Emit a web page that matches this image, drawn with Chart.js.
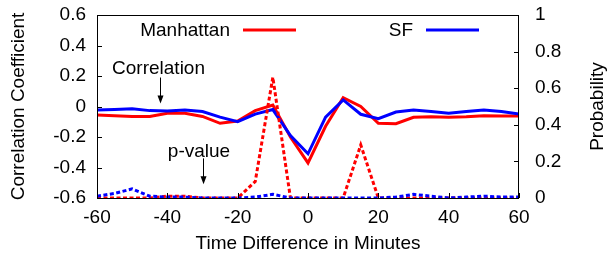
<!DOCTYPE html>
<html>
<head>
<meta charset="utf-8">
<script src="https://cdn.jsdelivr.net/npm/chart.js@4/dist/chart.umd.min.js"></script>
<style>
  html, body { margin: 0; padding: 0; background: #fff; }
  #wrap { width: 609px; height: 259px; }
</style>
</head>
<body>
<div id="wrap"><canvas id="chart" width="609" height="259"></canvas></div>
<script>
const minutes = [-60, -55, -50, -45, -40, -35, -30, -25, -20, -15, -10, -5, 0,
  5, 10, 15, 20, 25, 30, 35, 40, 45, 50, 55, 60];

const manhattanCorr = [-0.056, -0.06, -0.065, -0.065, -0.045, -0.045, -0.065, -0.11, -0.095, -0.027, 0.01, -0.2, -0.37,
  -0.13, 0.058, 0.0, -0.11, -0.113, -0.071, -0.067, -0.071, -0.067, -0.06, -0.062, -0.062];
const sfCorr = [-0.023, -0.02, -0.015, -0.027, -0.03, -0.023, -0.033, -0.07, -0.1, -0.05, -0.02, -0.19, -0.31,
  -0.07, 0.043, -0.051, -0.08, -0.036, -0.023, -0.033, -0.045, -0.033, -0.023, -0.033, -0.049];

const manhattanP = [0, 0, 0, 0, 0.01, 0.01, 0, 0, 0, 0.09, 0.66, 0, 0,
  0, 0, 0.29, 0, 0, 0, 0, 0, 0, 0, 0, 0];
const sfP = [0.01, 0.025, 0.05, 0.01, 0.005, 0.005, 0, 0, 0, 0.005, 0.02, 0, 0,
  0, 0, 0, 0, 0.005, 0.02, 0.01, 0, 0.005, 0.01, 0.005, 0.005];

const seriesNames = ["Manhattan", "SF"];
const xTicks = [-60, -40, -20, 0, 20, 40, 60];

const RED = "#ff0000";
const BLUE = "#0000ff";
const FONT = "Liberation Sans, Arial, sans-serif";
const FS = 19;

const toPoints = (ys) => minutes.map((m, i) => ({ x: m, y: ys[i] }));

// keep the plot box where the reference has it, labels may overflow
const noPad = (s) => {
  s.paddingTop = 0;
  s.paddingBottom = 0;
  s.paddingLeft = 0;
  s.paddingRight = 0;
};

// gnuplot-ish box, inward ticks, legend, right title and the two arrow notes
const decorations = {
  id: "decorations",
  afterDatasetsDraw(chart) {
    const { ctx, chartArea: a, scales } = chart;
    ctx.save();
    ctx.strokeStyle = "#000";
    ctx.lineWidth = 1;

    ctx.beginPath();
    scales.x.ticks.forEach((t) => {
      const px = Math.round(scales.x.getPixelForValue(t.value)) + 0.5;
      ctx.moveTo(px, a.bottom);
      ctx.lineTo(px, a.bottom - 5);
    });
    scales.y.ticks.forEach((t) => {
      const py = Math.round(scales.y.getPixelForValue(t.value)) + 0.5;
      ctx.moveTo(a.left, py);
      ctx.lineTo(a.left + 5, py);
    });
    scales.y1.ticks.forEach((t) => {
      const py = Math.round(scales.y1.getPixelForValue(t.value)) + 0.5;
      ctx.moveTo(a.right, py);
      ctx.lineTo(a.right - 5, py);
    });
    ctx.stroke();

    ctx.strokeRect(Math.round(a.left) + 0.5, Math.round(a.top) + 0.5,
      Math.round(a.right - a.left) - 1, Math.round(a.bottom - a.top));

    // legend
    ctx.font = FS + "px " + FONT;
    ctx.fillStyle = "#000";
    ctx.textBaseline = "middle";
    ctx.textAlign = "right";
    const ly = a.top + 15;
    ctx.fillText(seriesNames[0], 230, ly + 1);
    ctx.fillText(seriesNames[1], 413, ly + 1);
    ctx.lineWidth = 3;
    ctx.strokeStyle = RED;
    ctx.beginPath(); ctx.moveTo(243, ly); ctx.lineTo(296, ly); ctx.stroke();
    ctx.strokeStyle = BLUE;
    ctx.beginPath(); ctx.moveTo(426, ly); ctx.lineTo(479, ly); ctx.stroke();

    // right axis title, reading upwards
    ctx.save();
    ctx.translate(598, (a.top + a.bottom) / 2);
    ctx.rotate(-Math.PI / 2);
    ctx.textAlign = "center";
    ctx.fillText("Probability", 0, 0);
    ctx.restore();

    // annotations
    const notes = [
      { text: "Correlation", tx: -42.5, ty: 0.25, ax: -42, y0: 0.19, y1: 0.02 },
      { text: "p-value", tx: -31, ty: -0.3, ax: -30, y0: -0.34, y1: -0.51 },
    ];
    ctx.textAlign = "center";
    ctx.strokeStyle = "#000";
    ctx.fillStyle = "#000";
    ctx.lineWidth = 1;
    notes.forEach((n) => {
      ctx.fillText(n.text, scales.x.getPixelForValue(n.tx), scales.y.getPixelForValue(n.ty));
      const x = Math.round(scales.x.getPixelForValue(n.ax)) + 0.5;
      const yA = scales.y.getPixelForValue(n.y0);
      const yB = scales.y.getPixelForValue(n.y1);
      ctx.beginPath(); ctx.moveTo(x, yA); ctx.lineTo(x, yB - 4); ctx.stroke();
      ctx.beginPath();
      ctx.moveTo(x - 3, yB - 8); ctx.lineTo(x, yB); ctx.lineTo(x + 3, yB - 8);
      ctx.closePath();
      ctx.fill();
    });
    ctx.restore();
  },
};

new Chart(document.getElementById("chart"), {
  type: "line",
  data: {
    datasets: [
      { label: "Manhattan correlation", data: toPoints(manhattanCorr), yAxisID: "y",
        borderColor: RED, borderWidth: 3, order: 4 },
      { label: "SF correlation", data: toPoints(sfCorr), yAxisID: "y",
        borderColor: BLUE, borderWidth: 3, order: 3 },
      { label: "Manhattan p-value", data: toPoints(manhattanP), yAxisID: "y1",
        borderColor: RED, borderWidth: 3, borderDash: [4, 2.5], order: 2 },
      { label: "SF p-value", data: toPoints(sfP), yAxisID: "y1",
        borderColor: BLUE, borderWidth: 3, borderDash: [4, 2.5], order: 1 },
    ],
  },
  options: {
    responsive: false,
    animation: false,
    layout: { padding: { top: 15, left: 0, right: 0, bottom: 0 } },
    elements: {
      point: { radius: 0 },
      line: { tension: 0, fill: false, borderCapStyle: "butt" },
    },
    plugins: { legend: { display: false }, tooltip: { enabled: false } },
    scales: {
      x: {
        type: "linear",
        min: -60,
        max: 60,
        afterBuildTicks: (s) => { s.ticks = xTicks.map((v) => ({ value: v })); },
        afterFit: (s) => { s.height = 61; noPad(s); },
        grid: { display: false, drawTicks: false },
        border: { display: false },
        ticks: { color: "#000", font: { family: FONT, size: FS }, padding: 8 },
        title: { display: true, text: "Time Difference in Minutes", color: "#000",
          font: { family: FONT, size: FS }, padding: { top: 0, bottom: 4 } },
      },
      y: {
        position: "left",
        min: -0.6,
        max: 0.6,
        afterFit: (s) => { s.width = 97; noPad(s); },
        grid: { display: false, drawTicks: false },
        border: { display: false },
        ticks: { stepSize: 0.2, color: "#000", font: { family: FONT, size: FS }, padding: 11,
          callback: (v) => (Math.abs(v) < 1e-9 ? "0" : Number(v.toFixed(1)).toString()) },
        title: { display: true, text: "Correlation Coefficient", color: "#000",
          font: { family: FONT, size: FS }, padding: { top: 7, bottom: 0 } },
      },
      y1: {
        position: "right",
        min: 0,
        max: 1,
        afterFit: (s) => { s.width = 90; noPad(s); },
        grid: { display: false, drawTicks: false },
        border: { display: false },
        ticks: { stepSize: 0.2, color: "#000", font: { family: FONT, size: FS }, padding: 16,
          callback: (v) => Number(v.toFixed(1)).toString() },
        title: { display: false },
      },
    },
  },
  plugins: [decorations],
});
</script>
</body>
</html>
